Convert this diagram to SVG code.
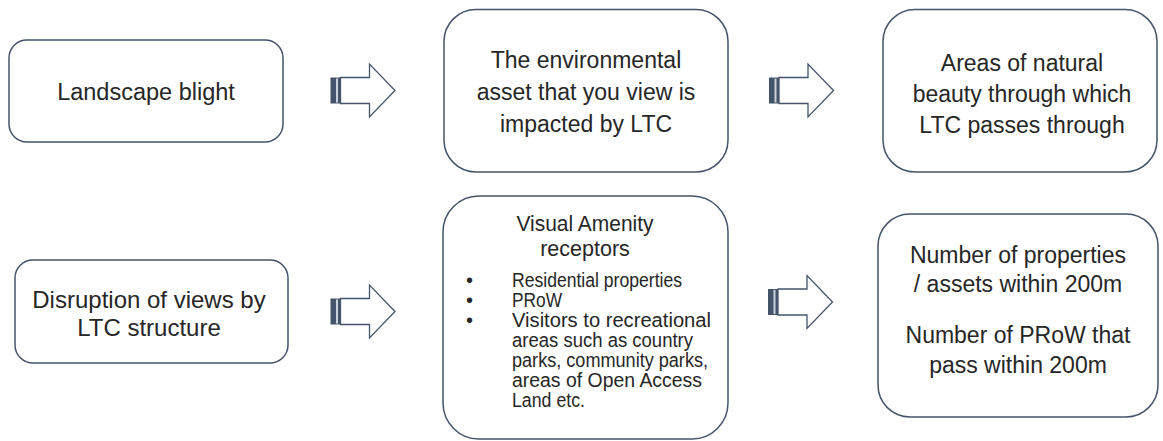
<svg xmlns="http://www.w3.org/2000/svg" width="1163" height="441" viewBox="0 0 1163 441">
<style>
.box{fill:#ffffff;stroke:#44546A;stroke-width:1.5}
.t{font-family:"Liberation Sans",Arial,sans-serif;font-size:23px;fill:#262626;text-anchor:middle}
.s{font-family:"Liberation Sans",Arial,sans-serif;font-size:20px;fill:#262626}
.h{font-family:"Liberation Sans",Arial,sans-serif;font-size:21.5px;fill:#262626;text-anchor:middle}
</style>
<defs>
<g id="arrow">
<path d="M10,-13 H39 V-26.5 L64.5,0 L39,26.5 V13 H10 Z" fill="#ffffff" stroke="#44546A" stroke-width="1.3" stroke-linejoin="miter"/>
<rect x="0" y="-13" width="10" height="26" fill="#44546A"/>
<rect x="5.5" y="-12" width="2" height="24" fill="#C9D1DA"/>
</g>
</defs>
<g id="connectors">
<use href="#arrow" transform="translate(330.5,90.5)"/>
<use href="#arrow" transform="translate(769,90.5)"/>
<use href="#arrow" transform="translate(330.5,311.5)"/>
<use href="#arrow" transform="translate(768,302)"/>
</g>
<g id="node-landscape-blight">
<rect class="box" x="9" y="40" width="274" height="102" rx="18"/>
<text class="t" x="146" y="100" style="font-size:23.5px">Landscape blight</text>
</g>
<g id="node-environmental-asset">
<rect class="box" x="444" y="9.5" width="284" height="162.5" rx="32"/>
<text class="t" x="586" y="68">The environmental</text>
<text class="t" x="586" y="100">asset that you view is</text>
<text class="t" x="586" y="132">impacted by LTC</text>
</g>
<g id="node-natural-beauty">
<rect class="box" x="883" y="9.5" width="274" height="162.5" rx="32"/>
<text class="t" x="1022" y="71">Areas of natural</text>
<text class="t" x="1022" y="102">beauty through which</text>
<text class="t" x="1022" y="133">LTC passes through</text>
</g>
<g id="node-disruption">
<rect class="box" x="15" y="260" width="273" height="103" rx="18"/>
<text class="t" x="149" y="308" style="font-size:24px">Disruption of views by</text>
<text class="t" x="149" y="336" style="font-size:24px">LTC structure</text>
</g>
<g id="node-visual-amenity">
<rect class="box" x="443" y="196" width="285" height="243" rx="36"/>
<text class="h" x="585" y="231" textLength="137" lengthAdjust="spacingAndGlyphs">Visual Amenity</text>
<text class="h" x="585" y="256">receptors</text>
<text class="s" x="466" y="287">•</text>
<text class="s" x="512" y="287" textLength="170" lengthAdjust="spacingAndGlyphs">Residential properties</text>
<text class="s" x="466" y="307">•</text>
<text class="s" x="512" y="307" textLength="50" lengthAdjust="spacingAndGlyphs">PRoW</text>
<text class="s" x="466" y="327">•</text>
<text class="s" x="512" y="327" textLength="199" lengthAdjust="spacingAndGlyphs">Visitors to recreational</text>
<text class="s" x="512" y="347" textLength="181" lengthAdjust="spacingAndGlyphs">areas such as country</text>
<text class="s" x="512" y="367" textLength="196" lengthAdjust="spacingAndGlyphs">parks, community parks,</text>
<text class="s" x="512" y="387" textLength="190" lengthAdjust="spacingAndGlyphs">areas of Open Access</text>
<text class="s" x="512" y="407" textLength="73" lengthAdjust="spacingAndGlyphs">Land etc.</text>
</g>
<g id="node-number-properties">
<rect class="box" x="878" y="214" width="280" height="203" rx="32"/>
<text class="t" x="1018" y="263">Number of properties</text>
<text class="t" x="1018" y="292">/ assets within 200m</text>
<text class="t" x="1018" y="343">Number of PRoW that</text>
<text class="t" x="1018" y="373">pass within 200m</text>
</g>
</svg>
